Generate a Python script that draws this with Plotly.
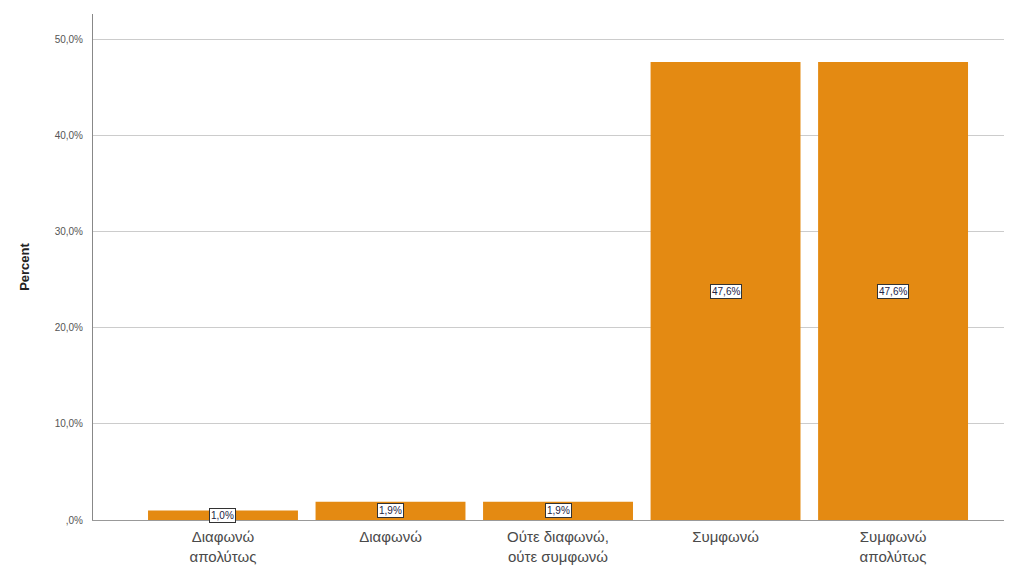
import plotly.graph_objects as go

categories = ["Διαφωνώ<br>απολύτως", "Διαφωνώ", "Ούτε διαφωνώ,<br>ούτε συμφωνώ", "Συμφωνώ", "Συμφωνώ<br>απολύτως"]
values = [1.0, 1.9, 1.9, 47.6, 47.6]
value_labels = ["1,0%", "1,9%", "1,9%", "47,6%", "47,6%"]
tick_vals = [0, 10, 20, 30, 40, 50]
tick_text = [",0%", "10,0%", "20,0%", "30,0%", "40,0%", "50,0%"]

xs = list(range(len(categories)))

fig = go.Figure()
fig.add_trace(go.Bar(
    x=xs, y=values, width=0.895,
    marker=dict(color="#E48A12", line=dict(width=0)),
    hoverinfo="skip",
))

for xi, v, lab in zip(xs, values, value_labels):
    fig.add_annotation(
        x=xi, y=v / 2, xref="x", yref="y", text=lab, showarrow=False,
        font=dict(family="Liberation Sans, Arial", size=10, color="#222244"),
        bgcolor="white", bordercolor="#333333", borderwidth=1, borderpad=1,
    )

fig.update_layout(
    width=1004, height=564,
    margin=dict(l=85, r=0, t=6, b=52),
    plot_bgcolor="white", paper_bgcolor="white",
    showlegend=False,
    font=dict(family="Liberation Sans, Arial", color="#444444"),
    xaxis=dict(
        range=[-0.776, 4.71],
        tickvals=xs, ticktext=categories,
        tickfont=dict(size=15, color="#4a4a4a"),
        ticklabelstandoff=3,
        showgrid=False, zeroline=False,
        showline=True, linecolor="#999999", linewidth=1,
        ticks="", fixedrange=True,
    ),
    yaxis=dict(
        range=[0, 52.6],
        tickvals=tick_vals, ticktext=tick_text,
        tickfont=dict(size=10, color="#555555"),
        ticklabelstandoff=7,
        showgrid=True, gridcolor="#cccccc", gridwidth=1,
        zeroline=False,
        showline=True, linecolor="#888888", linewidth=1,
        ticks="", ticklen=0,
        title=dict(text="<b>Percent</b>", font=dict(size=13, color="#222222"), standoff=22),
    ),
)

fig.write_html("out.html")
